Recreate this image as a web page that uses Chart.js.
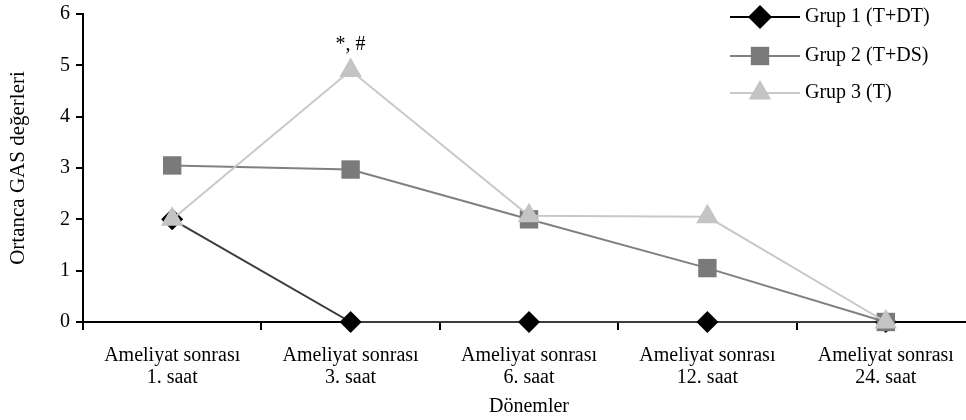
<!DOCTYPE html>
<html lang="tr">
<head>
<meta charset="utf-8">
<title>Ortanca GAS değerleri</title>
<script src="https://cdn.jsdelivr.net/npm/chart.js"></script>
<style>
    html, body { margin: 0; padding: 0; background: #fff; overflow: hidden; }
    #chart { display: block; }
</style>
</head>
<body>
<canvas id="chart" width="988" height="420"></canvas>
<script>
// Veriler
const donemler = [
    ['Ameliyat sonrası', '1. saat'],
    ['Ameliyat sonrası', '3. saat'],
    ['Ameliyat sonrası', '6. saat'],
    ['Ameliyat sonrası', '12. saat'],
    ['Ameliyat sonrası', '24. saat']
];
const grup1 = [2, 0, 0, 0, 0];          // Grup 1 (T+DT)
const grup2 = [3.05, 2.97, 2, 1.05, 0]; // Grup 2 (T+DS)
const grup3 = [2, 4.9, 2.07, 2.05, 0];  // Grup 3 (T)
const grupAdlari = ['Grup 1 (T+DT)', 'Grup 2 (T+DS)', 'Grup 3 (T)'];
const isaret = '*, #';   // 3. saat, Grup 3 üzerindeki not
const isaretIndex = 1;

const yazi = '"Liberation Serif", "Times New Roman", serif';

// İşaretçi çizimi (lejant için)
function drawMarker(ctx, style, x, y, r, color) {
    ctx.save();
    ctx.fillStyle = color;
    ctx.beginPath();
    if (style === 'rectRot') {
        ctx.moveTo(x, y - r);
        ctx.lineTo(x + r, y);
        ctx.lineTo(x, y + r);
        ctx.lineTo(x - r, y);
    } else if (style === 'rect') {
        const s = r * Math.SQRT1_2;
        ctx.rect(x - s, y - s, 2 * s, 2 * s);
    } else {
        const w = r * Math.sin(Math.PI / 3);
        ctx.moveTo(x, y - r);
        ctx.lineTo(x + w, y + r / 2);
        ctx.lineTo(x - w, y + r / 2);
    }
    ctx.closePath();
    ctx.fill();
    ctx.restore();
}

// Lejant: çizgi + işaretçi + metin
const lejantPlugin = {
    id: 'lejant',
    afterDraw: function (chart) {
        const ctx = chart.ctx;
        const satirlar = [17, 56, 93];
        chart.data.datasets.forEach(function (ds, i) {
            const y = satirlar[i];
            ctx.save();
            ctx.strokeStyle = ds.legendLine || ds.borderColor;
            ctx.lineWidth = 2;
            ctx.beginPath();
            ctx.moveTo(730, y);
            ctx.lineTo(800, y);
            ctx.stroke();
            drawMarker(ctx, ds.pointStyle, 760, y, ds.pointRadius + (ds.pointStyle === 'rectRot' ? 1 : 0), ds.pointBackgroundColor);
            ctx.fillStyle = '#000';
            ctx.font = '20px ' + yazi;
            ctx.textBaseline = 'middle';
            ctx.textAlign = 'left';
            ctx.fillText(ds.label, 805, y);
            ctx.restore();
        });
    }
};

// "*, #" notu
const isaretPlugin = {
    id: 'isaret',
    afterDraw: function (chart) {
        const ctx = chart.ctx;
        const x = chart.scales.x.getPixelForValue(isaretIndex);
        const y = chart.scales.y.getPixelForValue(grup3[isaretIndex]);
        ctx.save();
        ctx.fillStyle = '#000';
        ctx.font = '20px ' + yazi;
        ctx.textAlign = 'center';
        ctx.textBaseline = 'middle';
        ctx.fillText(isaret, x, y - 26);
        ctx.restore();
    }
};

const ctx = document.getElementById('chart').getContext('2d');
const chart = new Chart(ctx, {
    type: 'line',
    data: {
        labels: donemler,
        datasets: [
            {
                label: grupAdlari[0],
                data: grup1,
                borderColor: '#3c3c3c',
                legendLine: '#000',
                borderWidth: 2,
                pointStyle: 'rectRot',
                pointRadius: 11,
                pointBackgroundColor: '#000',
                pointBorderColor: '#000',
                pointBorderWidth: 0,
                tension: 0,
                clip: false,
                order: 2
            },
            {
                label: grupAdlari[1],
                data: grup2,
                borderColor: '#808080',
                borderWidth: 2,
                pointStyle: 'rect',
                pointRadius: 13,
                pointBackgroundColor: '#7a7a7a',
                pointBorderColor: '#7a7a7a',
                pointBorderWidth: 0,
                tension: 0,
                clip: false,
                order: 1
            },
            {
                label: grupAdlari[2],
                data: grup3,
                borderColor: '#c8c8c8',
                borderWidth: 2,
                pointStyle: 'triangle',
                pointRadius: 13,
                pointBackgroundColor: '#c4c4c4',
                pointBorderColor: '#c4c4c4',
                pointBorderWidth: 0,
                tension: 0,
                clip: false,
                order: 0
            }
        ]
    },
    options: {
        responsive: false,
        animation: false,
        layout: { padding: { top: 14, right: 0, bottom: 0, left: 0 } },
        plugins: {
            legend: { display: false },
            tooltip: { enabled: false }
        },
        scales: {
            x: {
                offset: true,
                grid: { offset: true, drawOnChartArea: false, drawTicks: true, tickLength: 8, color: '#000', lineWidth: 2 },
                border: { display: true, color: '#000', width: 2 },
                ticks: { color: '#000', font: { family: yazi, size: 20, lineHeight: 1.1 }, padding: 15, maxRotation: 0, autoSkip: false },
                title: { display: true, text: 'Dönemler', color: '#000', font: { family: yazi, size: 20 }, padding: { top: 0, bottom: 1 } },
                afterFit: function (scale) {
                    scale.height = 98;
                }
            },
            y: {
                min: 0,
                max: 6,
                ticks: { stepSize: 1, color: '#000', font: { family: yazi, size: 20 }, padding: 6 },
                grid: { drawOnChartArea: false, drawTicks: true, tickLength: 7, color: '#000', lineWidth: 2 },
                border: { display: true, color: '#000', width: 2 },
                title: { display: true, text: 'Ortanca GAS değerleri', color: '#000', font: { family: yazi, size: 21 }, padding: { top: 6, bottom: 0 } },
                afterFit: function (scale) {
                    scale.width = 83;
                    scale.paddingTop = 0;
                    scale.paddingBottom = 0;
                }
            }
        }
    },
    plugins: [lejantPlugin, isaretPlugin]
});
</script>
</body>
</html>
